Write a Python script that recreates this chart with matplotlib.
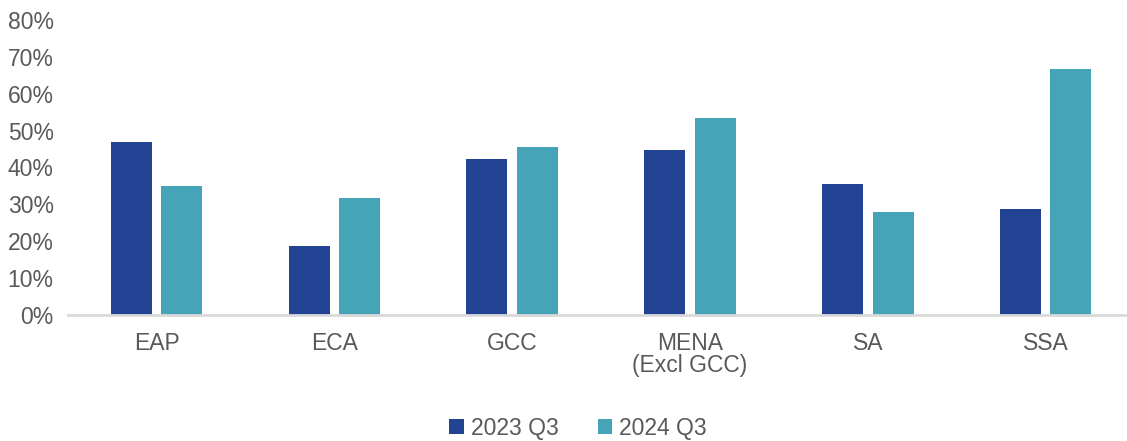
import matplotlib
matplotlib.use("Agg")
import matplotlib.pyplot as plt
import numpy as np
from matplotlib.ticker import FuncFormatter

categories = ["EAP", "ECA", "GCC", "MENA\n(Excl GCC)", "SA", "SSA"]
series_names = ["2023 Q3", "2024 Q3"]
values_2023 = [46.9, 18.7, 42.3, 44.7, 35.5, 28.7]
values_2024 = [35.0, 31.7, 45.5, 53.4, 27.9, 66.7]
colors = ["#224294", "#45A4B8"]

plt.rcParams['font.family'] = ['Liberation Sans', 'DejaVu Sans']
text_color = "#595959"

fig = plt.figure(figsize=(11.27, 4.41), dpi=100)
W, H = 1127, 441
left_px, right_px = 67.6, 1134.6
ax = fig.add_axes([left_px / W, 1 - 315 / H, (right_px - left_px) / W, (315 - 20) / H])

x = np.arange(len(categories))
bw = 0.231
gap = 0.053
off = (bw + gap) / 2
ax.bar(x - off, values_2023, bw, color=colors[0], label=series_names[0])
ax.bar(x + off, values_2024, bw, color=colors[1], label=series_names[1])

ax.set_xlim(-0.5, len(categories) - 0.5)
ax.set_ylim(0, 80)
ax.set_yticks(np.arange(0, 81, 10))
ax.yaxis.set_major_formatter(FuncFormatter(lambda v, p: f"{int(v)}%"))
ax.set_xticks(x)
ax.set_xticklabels(categories, linespacing=0.95)

for s in ["top", "right", "left"]:
    ax.spines[s].set_visible(False)
ax.spines["bottom"].set_color("#D9D9D9")
ax.spines["bottom"].set_linewidth(2)
ax.spines["bottom"].set_clip_on(False)
ax.tick_params(axis="both", length=0, labelsize=16.5, colors=text_color)
ax.tick_params(axis="y", pad=10)
ax.tick_params(axis="x", pad=12)

leg = fig.legend(loc="center", bbox_to_anchor=(578 / W, 1 - 428 / H), ncol=2,
                 frameon=False, fontsize=16.5, handlelength=0.65, handleheight=0.65,
                 handletextpad=0.3, columnspacing=1.7)
for t in leg.get_texts():
    t.set_color(text_color)

fig.savefig("out.png", dpi=100)
